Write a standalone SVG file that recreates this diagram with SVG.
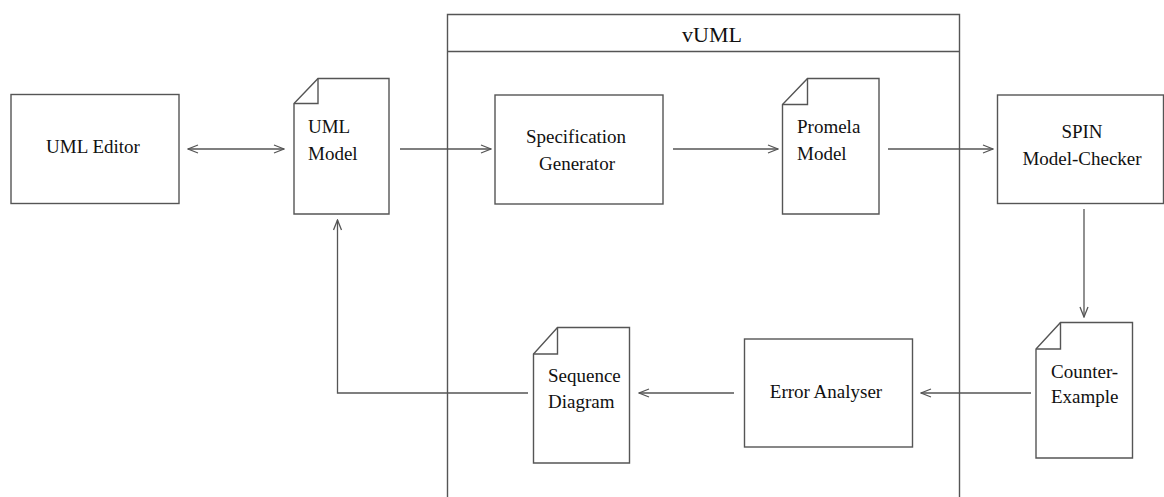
<svg xmlns="http://www.w3.org/2000/svg" width="1164" height="497" viewBox="0 0 1164 497">
<style>
.shape{fill:#fff;stroke:#555;stroke-width:1.4}
.fold{fill:none;stroke:#555;stroke-width:1.4}
.conn{fill:none;stroke:#555;stroke-width:1.3}
text{font-family:"Liberation Serif","Times New Roman",serif;font-size:19px;fill:#111}
.c{text-anchor:middle}
.title{font-size:22px}
</style>
<defs>
<marker id="ah" viewBox="0 0 12 10" refX="11" refY="5" markerWidth="12" markerHeight="10" orient="auto-start-reverse" markerUnits="userSpaceOnUse">
<path d="M1,1 L11,5 L1,9" fill="none" stroke="#555" stroke-width="1.3"/>
</marker>
</defs>
<rect width="1164" height="497" fill="#fff"/>
<g id="vuml">
<path class="fold" d="M447.5,497 V14.5 H959.5 V497 M447.5,51.5 H959.5"/>
<text class="c title" x="712" y="42">vUML</text>
</g>
<g id="uml-editor">
<rect class="shape" x="11" y="94.5" width="168" height="109"/>
<text class="c" x="93" y="153">UML Editor</text>
</g>
<g id="uml-model">
<path class="shape" d="M318,78.5 H389 V214 H294 V103.5 Z"/>
<path class="fold" d="M294,103.5 H318 V78.5"/>
<text x="308" y="133">UML</text>
<text x="308" y="160">Model</text>
</g>
<g id="spec-gen">
<rect class="shape" x="495" y="95" width="168" height="109"/>
<text class="c" x="576" y="143">Specification</text>
<text class="c" x="577" y="170">Generator</text>
</g>
<g id="promela-model">
<path class="shape" d="M807.5,78.5 H879 V214 H782.5 V104.5 Z"/>
<path class="fold" d="M782.5,104.5 H807.5 V78.5"/>
<text x="797" y="133">Promela</text>
<text x="797" y="160">Model</text>
</g>
<g id="spin">
<rect class="shape" x="997.5" y="95" width="166" height="108.5"/>
<text class="c" x="1082" y="138">SPIN</text>
<text class="c" x="1082" y="165">Model-Checker</text>
</g>
<g id="counter-example">
<path class="shape" d="M1060.5,322.5 H1132.5 V458 H1036 V349 Z"/>
<path class="fold" d="M1036,349 H1060.5 V322.5"/>
<text x="1051" y="378">Counter-</text>
<text x="1051" y="403">Example</text>
</g>
<g id="error-analyser">
<rect class="shape" x="744.5" y="339" width="168" height="108"/>
<text class="c" x="826" y="398">Error Analyser</text>
</g>
<g id="sequence-diagram">
<path class="shape" d="M557.5,327.5 H629.5 V463 H533.5 V354 Z"/>
<path class="fold" d="M533.5,354 H557.5 V327.5"/>
<text x="548" y="382">Sequence</text>
<text x="548" y="408">Diagram</text>
</g>
<g id="connectors">
<path class="conn" d="M188,149 H284" marker-start="url(#ah)" marker-end="url(#ah)"/>
<path class="conn" d="M400,149 H491" marker-end="url(#ah)"/>
<path class="conn" d="M673,149 H778" marker-end="url(#ah)"/>
<path class="conn" d="M888,149 H993" marker-end="url(#ah)"/>
<path class="conn" d="M1084,209 V317" marker-end="url(#ah)"/>
<path class="conn" d="M1031,393 H921" marker-end="url(#ah)"/>
<path class="conn" d="M734,393 H639" marker-end="url(#ah)"/>
<path class="conn" d="M528,393 H337.5 V220" marker-end="url(#ah)"/>
</g>
</svg>
